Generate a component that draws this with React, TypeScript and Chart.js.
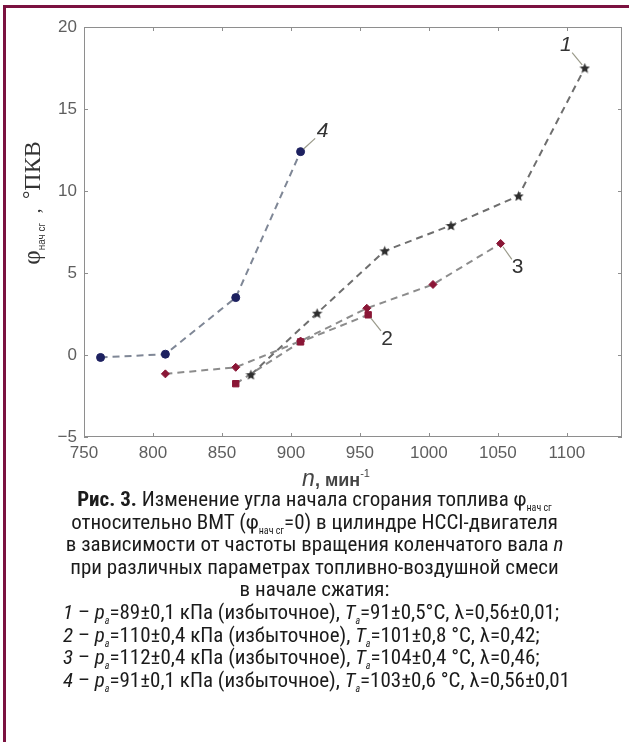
import React, { useEffect, useRef } from "react";
import { Chart, registerables } from "chart.js";

Chart.register(...registerables);

// ---- data ----
const xTicks = [750, 800, 850, 900, 950, 1000, 1050, 1100];
const yTicks = [-5, 0, 5, 10, 15, 20];

const n1 = [871, 919, 968, 1016, 1065, 1113];
const phi1 = [-1.2, 2.55, 6.35, 7.9, 9.7, 17.5];

const n2 = [860, 907, 956];
const phi2 = [-1.75, 0.8, 2.45];

const n3 = [809, 860, 907, 955, 1003, 1052];
const phi3 = [-1.15, -0.75, 0.85, 2.85, 4.3, 6.8];

const n4 = [762, 809, 860, 907];
const phi4 = [-0.15, 0.05, 3.5, 12.4];

const seriesNames = ["1", "2", "3", "4"];

// styling for the series number labels (offsets in px from the last point)
const labelStyle = [
  { dx: -19, dy: -23, italic: true },
  { dx: 19, dy: 24, italic: false },
  { dx: 17, dy: 24, italic: false },
  { dx: 22, dy: -20, italic: true },
];

function makeStar(color: string, size: number) {
  const c = document.createElement("canvas");
  c.width = size;
  c.height = size;
  const g = c.getContext("2d")!;
  const cx = size / 2, cy = size / 2 + 0.5;
  const R = size / 2, r = R * 0.45;
  g.beginPath();
  for (let i = 0; i < 10; i++) {
    const rad = i % 2 === 0 ? R : r;
    const a = -Math.PI / 2 + (i * Math.PI) / 5;
    const px = cx + rad * Math.cos(a);
    const py = cy + rad * Math.sin(a);
    if (i === 0) g.moveTo(px, py);
    else g.lineTo(px, py);
  }
  g.closePath();
  g.fillStyle = color;
  g.fill();
  return c;
}

const toPts = (xs: number[], ys: number[]) => xs.map((v, i) => ({ x: v, y: ys[i] }));

const decorPlugin = {
  id: "decor",
  afterDraw(chart: any) {
    const { ctx, chartArea: a, scales } = chart;
    const x = scales.x, y = scales.y;
    ctx.save();
    // frame
    ctx.strokeStyle = "#8e8e8e";
    ctx.lineWidth = 1;
    ctx.strokeRect(a.left + 0.5, a.top + 0.5, a.right - a.left - 1, a.bottom - a.top - 1);
    // inside ticks
    ctx.beginPath();
    xTicks.forEach((v) => {
      const px = Math.round(x.getPixelForValue(v)) + 0.5;
      ctx.moveTo(px, a.bottom);
      ctx.lineTo(px, a.bottom - 4);
      ctx.moveTo(px, a.top);
      ctx.lineTo(px, a.top + 4);
    });
    yTicks.forEach((v) => {
      const py = Math.round(y.getPixelForValue(v)) + 0.5;
      ctx.moveTo(a.left, py);
      ctx.lineTo(a.left + 4, py);
      ctx.moveTo(a.right, py);
      ctx.lineTo(a.right - 4, py);
    });
    ctx.stroke();

    // series number labels with leader lines
    chart.data.datasets.forEach((ds: any, i: number) => {
      const meta = chart.getDatasetMeta(i);
      const last = meta.data[meta.data.length - 1];
      const st = labelStyle[i];
      const lx = last.x + st.dx, ly = last.y + st.dy;
      const len = Math.hypot(st.dx, st.dy);
      const ux = st.dx / len, uy = st.dy / len;
      ctx.strokeStyle = "#9a9a8a";
      ctx.lineWidth = 1.2;
      ctx.beginPath();
      ctx.moveTo(last.x + ux * 4, last.y + uy * 4);
      ctx.lineTo(last.x + ux * (len - 10), last.y + uy * (len - 10));
      ctx.stroke();
      ctx.fillStyle = "#333";
      ctx.font = (st.italic ? "italic " : "") + '21px "Liberation Sans"';
      ctx.textAlign = "center";
      ctx.textBaseline = "middle";
      ctx.fillText(seriesNames[i], lx, ly);
    });

    // x axis title: n, мин-1
    const xc = 336, xb = 486;
    const xsegs = [
      { t: "n", f: 'italic 23px "Liberation Sans"', dy: 0 },
      { t: ", мин", f: 'bold 18px "Liberation Sans"', dy: 0 },
      { t: "-1", f: '11px "Liberation Sans"', dy: -9 },
    ];
    ctx.textAlign = "left";
    ctx.textBaseline = "alphabetic";
    ctx.fillStyle = "#444";
    let tw = 0;
    xsegs.forEach((s) => { ctx.font = s.f; tw += ctx.measureText(s.t).width; });
    let cx = xc - tw / 2;
    xsegs.forEach((s) => {
      ctx.font = s.f;
      ctx.fillText(s.t, cx, xb + s.dy);
      cx += ctx.measureText(s.t).width;
    });

    // y axis title: φ нач сг , ° ПКВ (rotated)
    ctx.translate(32, 203);
    ctx.rotate(-Math.PI / 2);
    const ysegs = [
      { t: "φ", f: '25px "Liberation Serif"', dy: 0 },
      { t: "нач сг", f: '10px "Liberation Sans"', dy: 5 },
      { t: "  ,  ", f: '19px "Liberation Serif"', dy: 0 },
      { t: "°", f: '21px "Liberation Serif"', dy: -3 },
      { t: "ПКВ", f: '24px "Liberation Serif"', dy: 0 },
    ];
    tw = 0;
    ysegs.forEach((s) => { ctx.font = s.f; tw += ctx.measureText(s.t).width; });
    cx = -tw / 2;
    ctx.fillStyle = "#333";
    ysegs.forEach((s) => {
      ctx.font = s.f;
      ctx.fillText(s.t, cx, 8 + s.dy);
      cx += ctx.measureText(s.t).width;
    });
    ctx.restore();
  },
};

function ChartView() {
  const ref = useRef<HTMLCanvasElement | null>(null);
  useEffect(() => {
    if (!ref.current) return;
    const star = makeStar("#2e2e2e", 11);
    const lineBase = { showLine: true, borderWidth: 2, borderDash: [7, 5], fill: false, tension: 0 };
    const chart = new Chart(ref.current, {
      type: "scatter",
      data: {
        datasets: [
          {
            ...lineBase,
            label: seriesNames[0],
            data: toPts(n1, phi1),
            borderColor: "#6e6e6e",
            pointStyle: star as any,
            pointRadius: 5,
            pointBackgroundColor: "#2e2e2e",
            pointBorderColor: "#2e2e2e",
          },
          {
            ...lineBase,
            label: seriesNames[1],
            data: toPts(n2, phi2),
            borderColor: "#8c8c8c",
            pointStyle: "rect",
            pointRadius: 4.5,
            pointBackgroundColor: "#8a1636",
            pointBorderColor: "#8a1636",
            pointBorderWidth: 1,
          },
          {
            ...lineBase,
            label: seriesNames[2],
            data: toPts(n3, phi3),
            borderColor: "#8c8c8c",
            pointStyle: "rectRot",
            pointRadius: 4,
            pointBackgroundColor: "#8a1636",
            pointBorderColor: "#8a1636",
            pointBorderWidth: 1,
          },
          {
            ...lineBase,
            label: seriesNames[3],
            data: toPts(n4, phi4),
            borderColor: "#7f8796",
            pointStyle: "circle",
            pointRadius: 4,
            pointBackgroundColor: "#1d2160",
            pointBorderColor: "#1d2160",
            pointBorderWidth: 1,
          },
        ],
      },
      options: {
        animation: false,
        responsive: false,
        devicePixelRatio: 1,
        layout: { padding: { left: 0, right: 6, top: 27, bottom: 0 } },
        plugins: { legend: { display: false }, tooltip: { enabled: false } },
        scales: {
          x: {
            type: "linear",
            min: 750,
            max: 1140,
            border: { display: false },
            grid: { display: false, drawTicks: false },
            afterBuildTicks: (s: any) => { s.ticks = xTicks.map((v) => ({ value: v })); },
            afterFit: (s: any) => { s.height = 73; },
            ticks: {
              padding: 6,
              color: "#5e5e5e",
              font: { family: '"Liberation Sans"', size: 17 },
              maxRotation: 0,
              autoSkip: false,
              callback: (v: any) => String(v),
            },
          },
          y: {
            type: "linear",
            min: -5,
            max: 20,
            border: { display: false },
            grid: { display: false, drawTicks: false },
            afterBuildTicks: (s: any) => { s.ticks = yTicks.map((v) => ({ value: v })); },
            afterFit: (s: any) => { s.width = 84; },
            ticks: {
              padding: 7,
              color: "#5e5e5e",
              font: { family: '"Liberation Sans"', size: 17 },
              callback: (v: any) => (Number(v) < 0 ? "\u2212" + Math.abs(Number(v)) : String(v)),
            },
          },
        },
      },
      plugins: [decorPlugin],
    });
    return () => chart.destroy();
  }, []);
  return <canvas ref={ref} width={629} height={510} style={{ position: "absolute", left: 0, top: 0 }} />;
}

const sub = (t: string, italic = false) => (
  <span style={{ fontSize: "10px", position: "relative", top: "5px", lineHeight: 0, fontStyle: italic ? "italic" : "normal" }}>{t}</span>
);

export default function App() {
  const capFont = '"Liberation Sans Narrow", "Roboto Condensed", "Liberation Sans", sans-serif';
  const lh = 22.6;
  return (
    <div style={{ position: "absolute", left: 0, top: 0, width: 629, height: 742, background: "#fff", overflow: "hidden" }}>
      <ChartView />
      <div
        style={{
          position: "absolute",
          left: 3,
          top: 5,
          width: 626,
          height: 737,
          borderLeft: "3px solid #7b1240",
          borderTop: "3px solid #7b1240",
          boxSizing: "border-box",
          pointerEvents: "none",
        }}
      />
      <div
        style={{
          position: "absolute",
          left: 0,
          top: 488,
          width: 629,
          fontFamily: capFont,
          fontSize: "21px",
          lineHeight: lh + "px",
          color: "#1b1b1b",
          whiteSpace: "nowrap",
        }}
      >
        <div style={{ textAlign: "center" }}>
          <b>Рис. 3.</b> Изменение угла начала сгорания топлива φ{sub("нач сг")}
        </div>
        <div style={{ textAlign: "center" }}>
          относительно ВМТ (φ{sub("нач сг")}=0) в цилиндре HCCI-двигателя
        </div>
        <div style={{ textAlign: "center" }}>
          в зависимости от частоты вращения коленчатого вала <i>n</i>
        </div>
        <div style={{ textAlign: "center" }}>при различных параметрах топливно-воздушной смеси</div>
        <div style={{ textAlign: "center" }}>в начале сжатия:</div>
        <div style={{ paddingLeft: 63 }}>
          <i>1</i> – <i>p</i>{sub("a", true)}=89±0,1 кПа (избыточное), <i>T</i>{sub("a", true)}=91±0,5°С, λ=0,56±0,01;
        </div>
        <div style={{ paddingLeft: 63 }}>
          <i>2</i> – <i>p</i>{sub("a", true)}=110±0,4 кПа (избыточное), <i>T</i>{sub("a", true)}=101±0,8 °С, λ=0,42;
        </div>
        <div style={{ paddingLeft: 63 }}>
          <i>3</i> – <i>p</i>{sub("a", true)}=112±0,4 кПа (избыточное), <i>T</i>{sub("a", true)}=104±0,4 °С, λ=0,46;
        </div>
        <div style={{ paddingLeft: 63 }}>
          <i>4</i> – <i>p</i>{sub("a", true)}=91±0,1 кПа (избыточное), <i>T</i>{sub("a", true)}=103±0,6 °С, λ=0,56±0,01
        </div>
      </div>
    </div>
  );
}
